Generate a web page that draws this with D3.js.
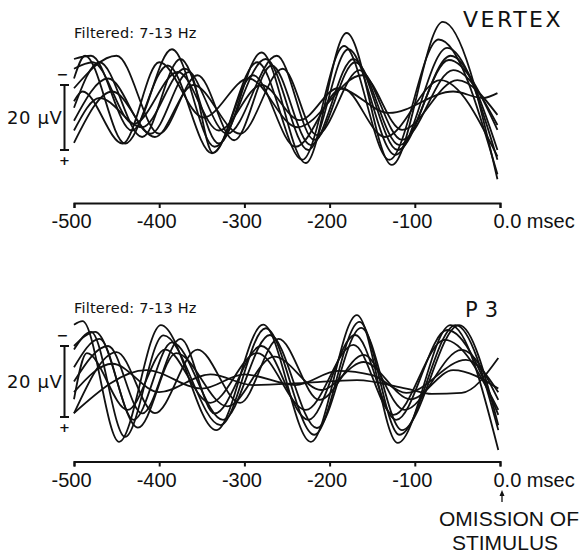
<!DOCTYPE html>
<html>
<head>
<meta charset="utf-8">
<script src="https://cdn.jsdelivr.net/npm/d3@7"></script>
<style>
  body { margin: 0; background: #fff; }
  svg text { fill: #111; }
</style>
</head>
<body>
<div id="chart"></div>
<script>
const tickValues = [-500, -400, -300, -200, -100, 0]
const tickLabels = ["-500", "-400", "-300", "-200", "-100", "0.0 msec"]
const filterLabel = "Filtered: 7-13 Hz"
const scaleLabel = "20 \u00b5V"
const scaleBar = [-10, 10]   // 20 uV, negative up

// VERTEX traces: [msec, uV]  (negative = up)
const vertexTraces = [
  [[-500, -3], [-470, -17], [-420, 6], [-375, -18], [-330, 8], [-280, -20], [-228, 14], [-180, -26], [-127, 14.6], [-67, -29.4], [-3, 19]],
  [[-500, -12], [-487, -19], [-440, 8], [-390, -16], [-338, 11], [-285, -17], [-232, 13], [-183, -22], [-130, 13], [-72, -24], [-3, 17.5]],
  [[-500, -18], [-480, -19], [-432, 4], [-385, -21], [-335, 9], [-275, -18], [-225, 10], [-178, -21], [-123, 11.5], [-62, -21.4], [-3, 13]],
  [[-500, -9], [-450, -19], [-400, 5], [-355, -13], [-312, 7], [-268, -16], [-222, 8.5], [-172, -18], [-120, 10], [-58, -19], [-3, 10]],
  [[-500, 4], [-470, -6], [-420, 3], [-370, -15], [-320, 5], [-262, -19], [-218, 6.9], [-170, -17], [-118, 8.5], [-60, -17.7], [-3, 3.8]],
  [[-500, 7.8], [-455, -8], [-405, 6], [-360, -10], [-305, 5], [-255, -15], [-215, 5.4], [-165, -14.6], [-115, 6.9], [-55, -14.6], [-3, 2.3]],
  [[-500, -5], [-490, -8], [-443, 8], [-400, -17], [-348, 0], [-295, -12], [-238, 3], [-162, -13], [-115, 3.8], [-50, -11.5], [-3, -0.8]],
  [[-500, -15], [-478, -17], [-430, 2], [-378, -14], [-330, 4], [-280, -10], [-235, 0.8], [-190, -9], [-130, -1.4], [-55, -8], [-20, -6], [-3, -7.5]],
  [[-500, 1], [-460, -12], [-410, 5], [-365, -14], [-337, 10.9], [-290, -13], [-240, 9], [-185, -9], [-135, 6], [-70, -11.5], [-3, 12]]
]

// P3 traces
const p3Traces = [
  [[-500, -16], [-490, -17], [-447, 17], [-398, -15.9], [-333, 13.7], [-278, -16], [-222, 17], [-168, -18.7], [-120, 17.3], [-58, -15.9], [-2, 19.3]],
  [[-500, -9], [-480, -14], [-440, 15.6], [-395, -13], [-328, 12.3], [-275, -15], [-218, 15], [-165, -16.8], [-118, 15], [-52, -15.9], [-2, 13.7]],
  [[-500, -4], [-470, -12], [-430, 10.8], [-385, -11], [-325, 10.8], [-270, -13.1], [-215, 13.1], [-163, -15.1], [-115, 13.7], [-48, -15.9], [-2, 12.3]],
  [[-500, 0], [-460, -10], [-420, 9], [-375, -12], [-335, 9], [-280, -10], [-225, 10.8], [-170, -13.1], [-122, 10.8], [-62, -14.5], [-2, 9.4]],
  [[-500, 5], [-485, -8], [-437, 8], [-393, -9], [-340, 6], [-285, -8], [-228, 8], [-172, -10.3], [-125, 9.4], [-65, -11.7], [-2, 8]],
  [[-500, 9], [-450, -8.3], [-405, 8.9], [-355, -9], [-305, 6], [-260, -12], [-212, 5.2], [-160, -7.5], [-112, 8], [-45, -8.9], [-2, 5.2]],
  [[-500, 8.9], [-415, -3.2], [-350, 2], [-300, -2], [-240, 1], [-190, -3], [-150, -1.8], [-110, 3.2], [-40, -6.1], [-2, 3]],
  [[-500, 3], [-455, -5], [-400, 3], [-340, -2], [-290, 1], [-230, 0.4], [-168, -0.4], [-110, 2], [-80, 3.5], [-45, 3.2], [-2, -6.6]],
  [[-500, -10], [-475, -14], [-425, 13], [-380, -8], [-320, 7], [-265, -7], [-210, 2.4], [-160, -5.5], [-105, 5], [-55, -3.2], [-2, 2]]
]

const panels = [
  { title: "VERTEX", traces: vertexTraces, yRange: [85, 150], axisY: 203, filterY: 38, titleX: 463, titleY: 27, spacing: 2.5, titleSize: 22 },
  { title: "P3", traces: p3Traces, yRange: [346, 417], axisY: 461.5, filterY: 313, titleX: 465, titleY: 317, spacing: 7, titleSize: 21 }
]

var width = 582
var height = 554

var svg = d3.select("#chart")
  .append("svg")
  .attr("width", width)
  .attr("height", height)

var x = d3.scaleLinear()
  .domain([-500, 0])
  .range([74, 500])

panels.forEach(function(p) {
  var y = d3.scaleLinear()
    .domain(scaleBar)
    .range(p.yRange)

  var line = d3.line()
    .x(d => x(d[0]))
    .y(d => y(d[1]))
    .curve(d3.curveMonotoneX)

  svg.append("g")
    .selectAll("path")
    .data(p.traces)
    .enter()
    .append("path")
    .attr("d", line)
    .attr("fill", "none")
    .attr("stroke", "#111")
    .attr("stroke-width", 1.8)

  // calibration bar
  var bx = 64.5
  var g = svg.append("g").attr("stroke", "#111").attr("stroke-width", 2)
  g.append("line").attr("x1", bx).attr("x2", bx).attr("y1", y(scaleBar[0])).attr("y2", y(scaleBar[1]))
  scaleBar.forEach(function(v) {
    g.append("line").attr("x1", bx - 4.5).attr("x2", bx + 4.5).attr("y1", y(v)).attr("y2", y(v))
  })
  svg.append("text")
    .attr("x", bx - 2).attr("y", y(scaleBar[0]) - 6)
    .attr("text-anchor", "middle")
    .style("font", "bold 14px 'DejaVu Sans'")
    .text("\u2212")
  svg.append("text")
    .attr("x", bx).attr("y", y(scaleBar[1]) + 15)
    .attr("text-anchor", "middle")
    .style("font", "bold 13px 'DejaVu Sans'")
    .text("+")
  svg.append("text")
    .attr("x", 7).attr("y", (p.yRange[0] + p.yRange[1]) / 2 + 6)
    .style("font", "18px 'DejaVu Sans'")
    .style("letter-spacing", "0.6px")
    .text(scaleLabel)

  svg.append("text")
    .attr("x", 74).attr("y", p.filterY)
    .style("font", "14.5px 'DejaVu Sans'")
    .style("letter-spacing", "0.2px")
    .text(filterLabel)

  svg.append("text")
    .attr("x", p.titleX).attr("y", p.titleY)
    .style("font", p.titleSize + "px 'DejaVu Sans'")
    .style("letter-spacing", p.spacing + "px")
    .text(p.title)

  var axis = d3.axisBottom(x)
    .tickValues(tickValues)
    .tickFormat((d, i) => tickLabels[i])
    .tickSize(5)
    .tickSizeOuter(5)
    .tickPadding(6)

  var ag = svg.append("g")
    .attr("transform", "translate(0," + p.axisY + ")")
    .call(axis)
  ag.select(".domain").attr("stroke", "#111").attr("stroke-width", 2)
  ag.selectAll(".tick line").attr("stroke", "#111").attr("stroke-width", 2)
  ag.selectAll(".tick text")
    .style("font", "20px 'Liberation Sans'")
    .attr("fill", "#111")
    .attr("dx", d => d === 0 ? 0 : -3)
    .attr("text-anchor", d => d === 0 ? "start" : "middle")
    .attr("x", d => d === 0 ? -7 : 0)
})

// stimulus omission note
svg.append("line")
  .attr("x1", x(0) + 2).attr("x2", x(0) + 2)
  .attr("y1", 502).attr("y2", 493)
  .attr("stroke", "#111").attr("stroke-width", 1.3)
svg.append("path")
  .attr("d", "M" + (x(0) - 0.5) + ",496 L" + (x(0) + 2) + ",490 L" + (x(0) + 4.5) + ",496 Z")
  .attr("fill", "#111")
svg.append("text")
  .attr("x", 509).attr("y", 526)
  .attr("text-anchor", "middle")
  .style("font", "21px 'Liberation Sans'")
  .text("OMISSION OF")
svg.append("text")
  .attr("x", 505).attr("y", 550)
  .attr("text-anchor", "middle")
  .style("font", "21px 'Liberation Sans'")
  .text("STIMULUS")
</script>
</body>
</html>
